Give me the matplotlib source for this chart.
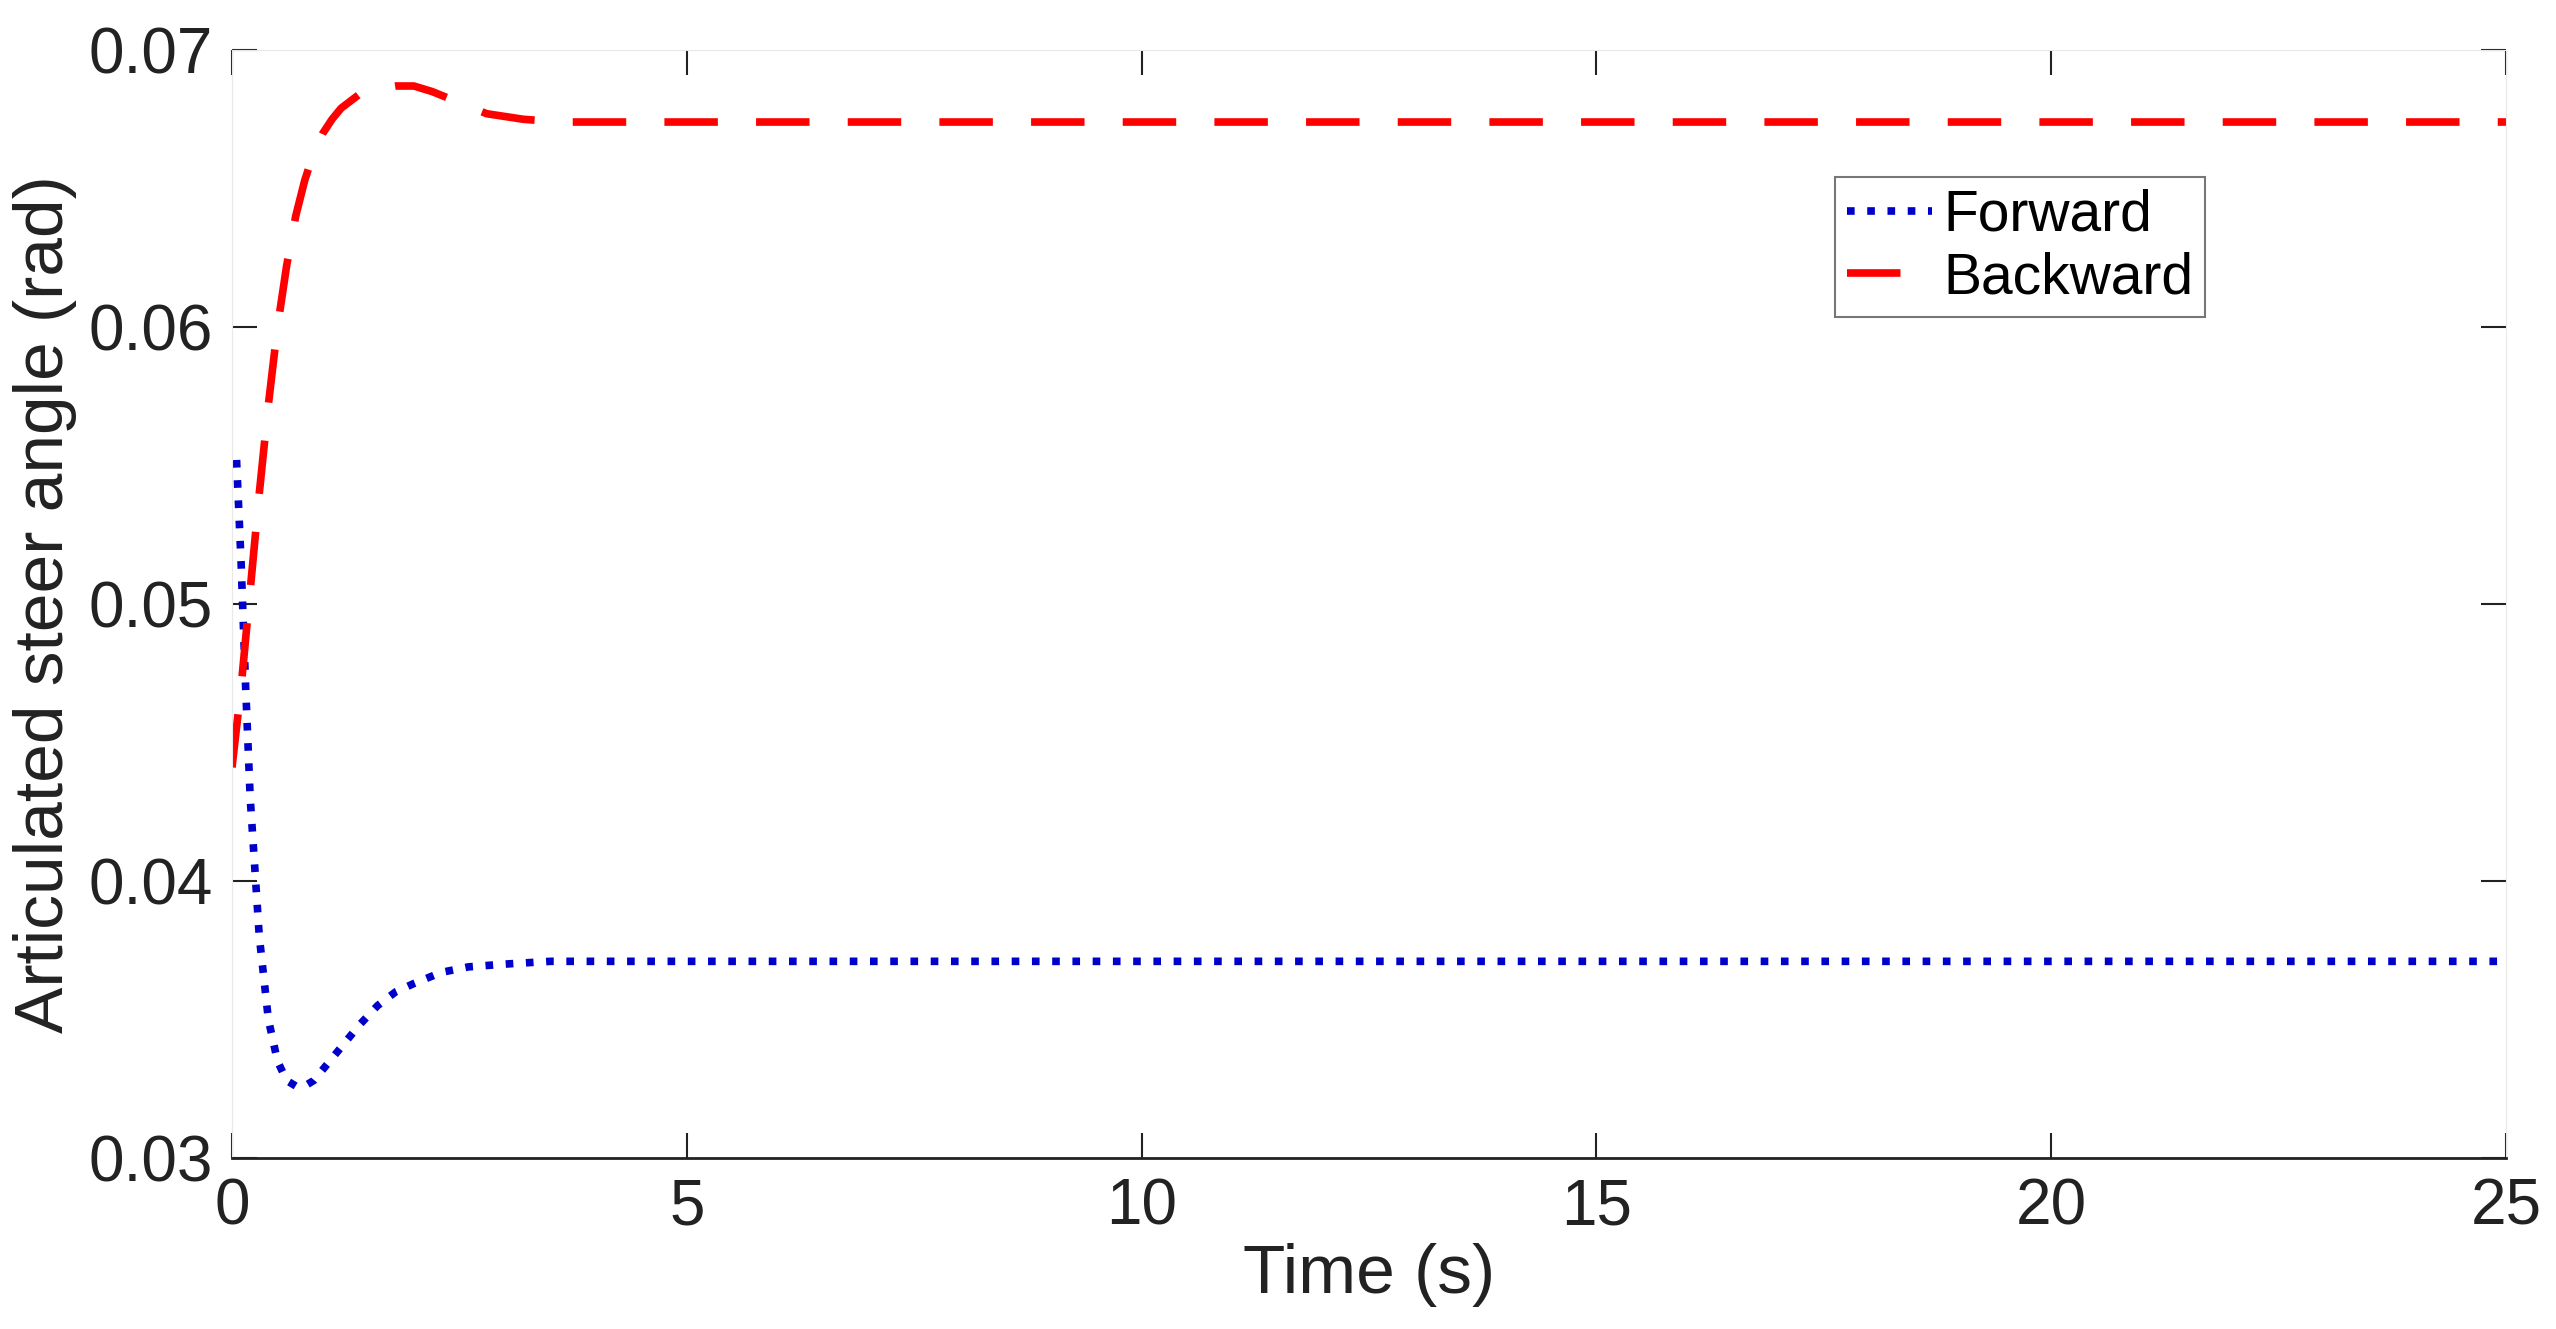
import numpy as np
import matplotlib.pyplot as plt

# values
t_fwd = [0.05, 0.1, 0.15, 0.2, 0.3, 0.4, 0.5, 0.6, 0.7, 0.8, 0.9, 1.0, 1.2, 1.4, 1.6, 1.8, 2.0, 2.3, 2.6, 3.0, 3.5, 4.0, 5.0, 10.0, 15.0, 20.0, 25.0]
y_fwd = [0.0552, 0.0515, 0.0470, 0.0430, 0.0380, 0.0350, 0.0335, 0.0328, 0.0326, 0.0326, 0.0328, 0.0332, 0.0340, 0.0348, 0.0355, 0.0360, 0.0363, 0.0367, 0.0369, 0.0370, 0.0371, 0.0371, 0.0371, 0.0371, 0.0371, 0.0371, 0.0371]
t_bwd = [0.0, 0.1, 0.2, 0.3, 0.4, 0.5, 0.6, 0.7, 0.8, 0.9, 1.0, 1.1, 1.2, 1.4, 1.6, 1.8, 2.0, 2.2, 2.5, 2.8, 3.2, 3.6, 4.0, 5.0, 10.0, 15.0, 20.0, 25.0]
y_bwd = [0.0441, 0.0470, 0.0505, 0.0540, 0.0572, 0.0600, 0.0622, 0.0640, 0.0653, 0.0663, 0.0670, 0.0675, 0.0679, 0.0684, 0.0686, 0.0687, 0.0687, 0.0685, 0.0681, 0.0677, 0.0675, 0.0674, 0.0674, 0.0674, 0.0674, 0.0674, 0.0674, 0.0674]

plt.rcParams['font.family'] = ['Liberation Sans', 'DejaVu Sans']

fig = plt.figure(figsize=(25.56, 13.29), dpi=100)
ax = fig.add_axes([232/2556, 1 - 1158/1329, (2506-232)/2556, (1158-50)/1329])

ax.plot(t_fwd, y_fwd, ':', color='#0000cc', lw=5.5, label='Forward')
ax.plot(t_bwd, y_bwd, '--', color='#ff0000', lw=5.5, dashes=(7, 5), label='Backward')

ax.set_xlim(0, 25)
ax.set_ylim(0.03, 0.07)
ax.set_xticks([0, 5, 10, 15, 20, 25])
ax.set_yticks([0.03, 0.04, 0.05, 0.06, 0.07])
ax.set_yticklabels(['0.03', '0.04', '0.05', '0.06', '0.07'])
ax.tick_params(direction='in', length=18, width=1.5, labelsize=46, colors='#222222',
               top=True, right=True, pad=14)
for s in ('left', 'top', 'right'):
    ax.spines[s].set_color('#e8e8e8')
ax.spines['bottom'].set_color('#222222')
ax.spines['bottom'].set_linewidth(2)

ax.set_xlabel('Time (s)', fontsize=50, color='#222222', labelpad=4)
ax.set_ylabel('Articulated steer angle (rad)', fontsize=50, color='#222222', labelpad=8)

leg = ax.legend(loc='upper left', bbox_to_anchor=(0.705, 0.885), fontsize=41,
                frameon=True, fancybox=False, handlelength=1.5, handletextpad=0.2,
                borderpad=0.2, labelspacing=0.15, borderaxespad=0)
leg.get_frame().set_edgecolor('#555555')
leg.get_frame().set_linewidth(1.5)

fig.savefig('out.png', dpi=100)
